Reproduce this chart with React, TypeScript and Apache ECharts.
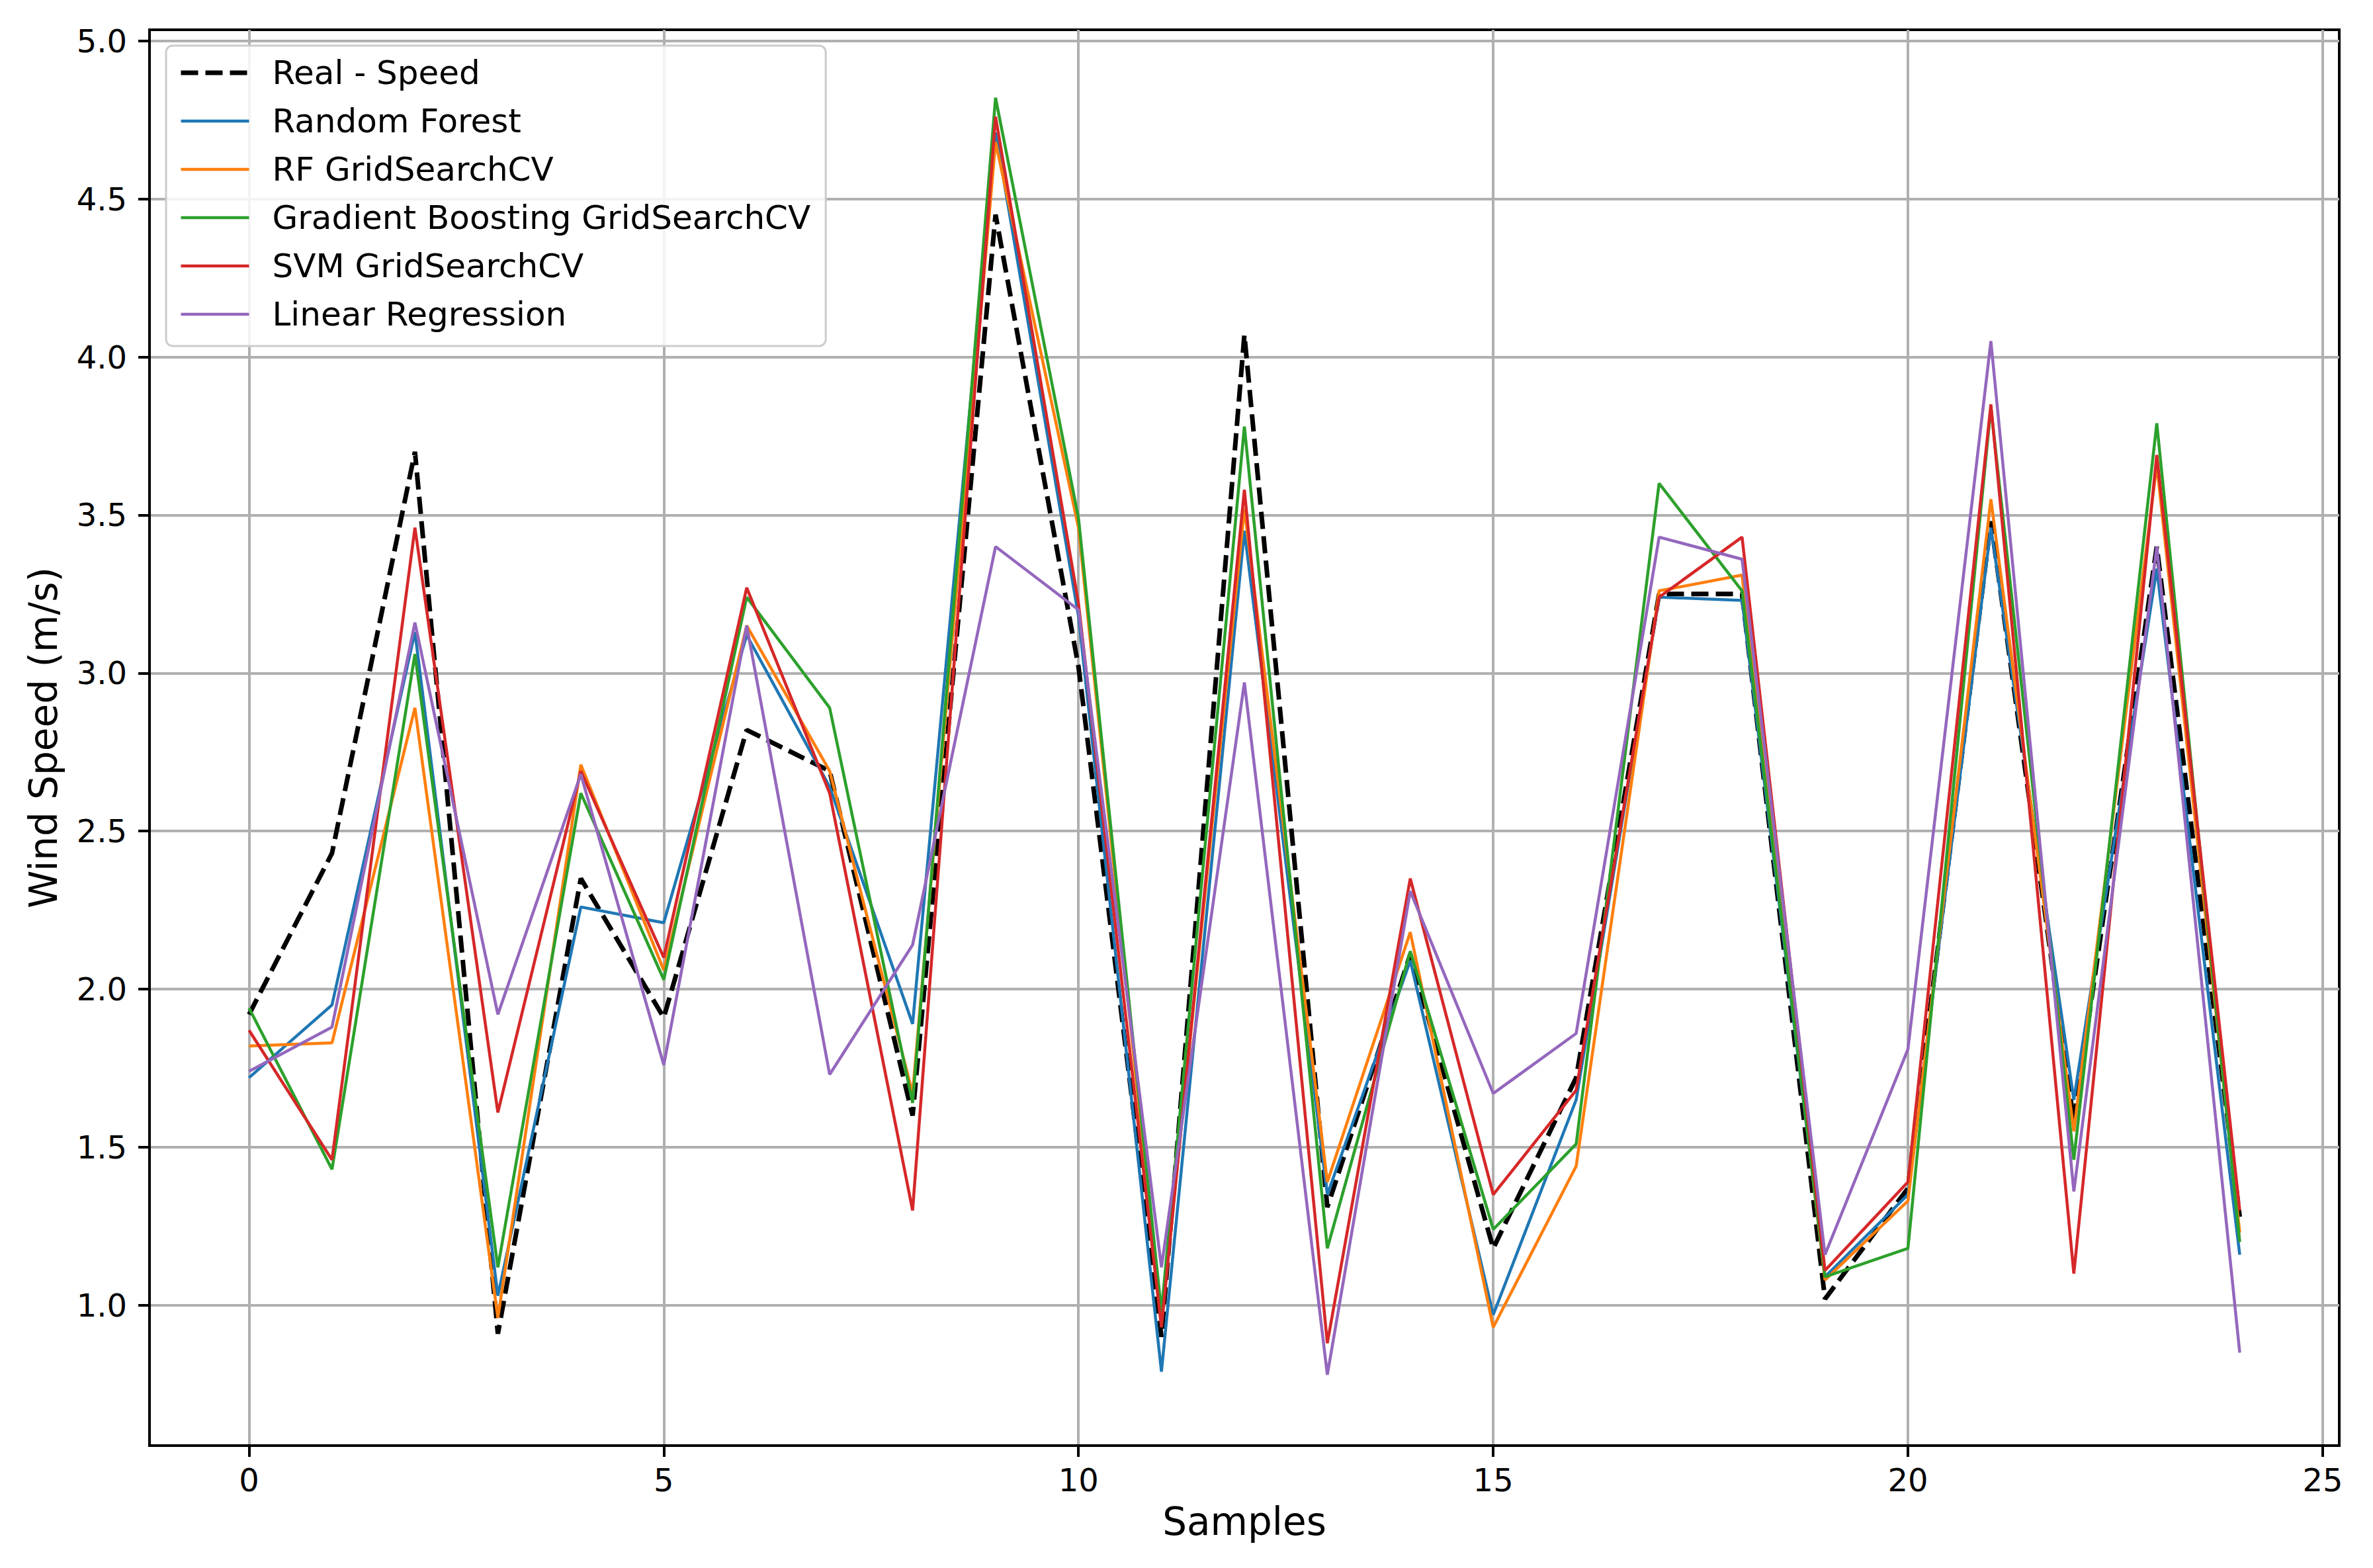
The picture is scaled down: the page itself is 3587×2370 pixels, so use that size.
import { useEffect, useRef } from 'react';
import * as echarts from 'echarts';

// wind speed per sample
const samples = [0, 1, 2, 3, 4, 5, 6, 7, 8, 9, 10, 11, 12, 13, 14, 15, 16, 17, 18, 19, 20, 21, 22, 23, 24];
const realSpeed = [1.92, 2.43, 3.70, 0.91, 2.35, 1.91, 2.82, 2.69, 1.60, 4.45, 3.02, 0.90, 4.07, 1.31, 2.11, 1.18, 1.72, 3.25, 3.25, 1.02, 1.37, 3.48, 1.58, 3.40, 1.28];
const randomForest = [1.72, 1.95, 3.13, 1.03, 2.26, 2.21, 3.12, 2.64, 1.89, 4.71, 3.18, 0.79, 3.45, 1.35, 2.09, 0.97, 1.65, 3.24, 3.23, 1.09, 1.35, 3.46, 1.65, 3.33, 1.16];
const rfGridSearch = [1.82, 1.83, 2.89, 0.96, 2.71, 2.06, 3.15, 2.69, 1.67, 4.68, 3.46, 0.95, 3.52, 1.39, 2.18, 0.93, 1.44, 3.26, 3.31, 1.08, 1.33, 3.55, 1.55, 3.66, 1.23];
const gbGridSearch = [1.94, 1.43, 3.06, 1.12, 2.62, 2.03, 3.24, 2.89, 1.64, 4.82, 3.49, 0.98, 3.78, 1.18, 2.12, 1.24, 1.51, 3.60, 3.26, 1.09, 1.18, 3.84, 1.46, 3.79, 1.20];
const svmGridSearch = [1.87, 1.46, 3.46, 1.61, 2.69, 2.10, 3.27, 2.62, 1.30, 4.76, 3.22, 0.93, 3.58, 0.88, 2.35, 1.35, 1.68, 3.24, 3.43, 1.11, 1.39, 3.85, 1.10, 3.69, 1.30];
const linearRegression = [1.74, 1.88, 3.16, 1.92, 2.68, 1.76, 3.15, 1.73, 2.14, 3.40, 3.20, 1.12, 2.97, 0.78, 2.31, 1.67, 1.86, 3.43, 3.36, 1.16, 1.81, 4.05, 1.36, 3.40, 0.85];

const xTicks = [0, 5, 10, 15, 20, 25];
const yTicks = [1.0, 1.5, 2.0, 2.5, 3.0, 3.5, 4.0, 4.5, 5.0];

const FONT = 'DejaVu Sans';

const SERIES = [
    {name: 'Real - Speed', values: realSpeed, color: '#000000', width: 7, dash: [26, 11]},
    {name: 'Random Forest', values: randomForest, color: '#1f77b4', width: 4.5, dash: 'solid'},
    {name: 'RF GridSearchCV', values: rfGridSearch, color: '#ff7f0e', width: 4.5, dash: 'solid'},
    {name: 'Gradient Boosting GridSearchCV', values: gbGridSearch, color: '#2ca02c', width: 4.5, dash: 'solid'},
    {name: 'SVM GridSearchCV', values: svmGridSearch, color: '#d62728', width: 4.5, dash: 'solid'},
    {name: 'Linear Regression', values: linearRegression, color: '#9467bd', width: 4.5, dash: 'solid'}
];

export default function App() {
    const ref = useRef<HTMLDivElement | null>(null);

    useEffect(() => {
        if (!ref.current) return;
        const chart = echarts.init(ref.current, null, {renderer: 'svg'});
        chart.setOption({
            animation: false,
            backgroundColor: '#ffffff',
            grid: {
                left: 226, right: 51, top: 45, bottom: 185,
                show: true, borderColor: '#000', borderWidth: 4, backgroundColor: '#fff'
            },
            legend: {
                orient: 'vertical',
                left: 251,
                top: 69,
                padding: [15, 23, 22, 19],
                itemWidth: 103,
                itemHeight: 16,
                itemGap: 21,
                selectedMode: false,
                backgroundColor: 'rgba(255,255,255,0.85)',
                borderColor: '#cccccc',
                borderWidth: 3,
                borderRadius: 10,
                itemStyle: {opacity: 0},
                data: SERIES.map(s => ({
                    name: s.name,
                    itemStyle: {opacity: 0},
                    lineStyle: {color: s.color, width: s.width, type: s.dash}
                })),
                textStyle: {fontFamily: FONT, fontSize: 50, color: '#000', lineHeight: 52, padding: [0, 0, 0, 30]}
            },
            xAxis: {
                type: 'value',
                min: -1.2,
                max: 25.2,
                name: 'Samples',
                nameLocation: 'middle',
                nameGap: 86,
                nameTextStyle: {fontFamily: FONT, fontSize: 58, color: '#000'},
                axisLine: {show: true, onZero: false, lineStyle: {color: '#000', width: 4}},
                axisTick: {show: true, length: 17, customValues: xTicks, lineStyle: {color: '#000', width: 4}},
                axisLabel: {
                    customValues: xTicks, margin: 28,
                    fontFamily: FONT, fontSize: 48, color: '#000',
                    formatter: (v: number) => String(v)
                },
                splitLine: {show: true, lineStyle: {color: '#b0b0b0', width: 4}}
            },
            yAxis: {
                type: 'value',
                min: 0.556,
                max: 5.035,
                name: 'Wind Speed (m/s)',
                nameLocation: 'middle',
                nameGap: 131,
                nameRotate: 90,
                nameTextStyle: {fontFamily: FONT, fontSize: 58, color: '#000'},
                axisLine: {show: true, onZero: false, lineStyle: {color: '#000', width: 4}},
                axisTick: {show: true, length: 17, customValues: yTicks, lineStyle: {color: '#000', width: 4}},
                axisLabel: {
                    customValues: yTicks, margin: 34,
                    fontFamily: FONT, fontSize: 48, color: '#000',
                    formatter: (v: number) => v.toFixed(1)
                },
                splitLine: {show: true, lineStyle: {color: '#b0b0b0', width: 4}}
            },
            series: SERIES.map(s => ({
                name: s.name,
                type: 'line',
                data: s.values.map((v, i) => [samples[i], v]),
                symbol: 'none',
                lineStyle: {color: s.color, width: s.width, type: s.dash},
                itemStyle: {color: s.color},
                emphasis: {disabled: true}
            }))
        });
        return () => chart.dispose();
    }, []);

    return <div ref={ref} style={{position: 'fixed', left: 0, top: 0, width: 3587, height: 2370}}/>;
}
